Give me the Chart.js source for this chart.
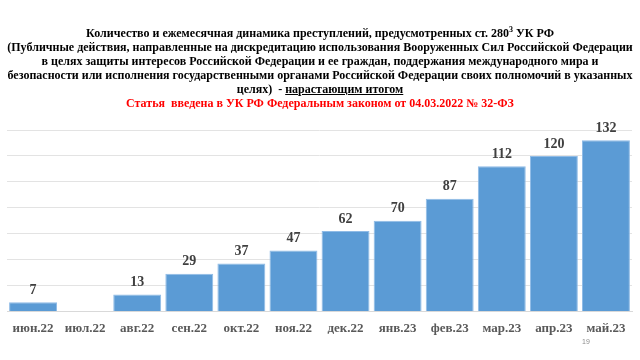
<!DOCTYPE html>
<html><head><meta charset="utf-8">
<script src="https://cdn.jsdelivr.net/npm/chart.js@4"></script>
<style>
html,body{margin:0;padding:0;background:#fff;}
#wrap{position:relative;width:640px;height:360px;overflow:hidden;}
#title{position:absolute;left:0;top:26px;width:640px;text-align:center;font-family:"Liberation Serif","Times New Roman",serif;font-weight:bold;font-size:12px;line-height:14px;color:#000;}
#title .red{color:#ff0000;}
#title sup{font-size:8px;line-height:0;vertical-align:5px;}
#page{position:absolute;left:582px;top:338px;font-family:"Liberation Sans",Arial,sans-serif;font-size:7px;color:#8c8c8c;}
canvas{position:absolute;left:0;top:0;}
</style></head>
<body><div id="wrap">
<canvas id="c" width="640" height="360"></canvas>
<div id="title">
<div>Количество и ежемесячная динамика преступлений, предусмотренных ст. 280<sup>3</sup> УК РФ</div>
<div>(Публичные действия, направленные на дискредитацию использования Вооруженных Сил Российской Федерации</div>
<div>в целях защиты интересов Российской Федерации и ее граждан, поддержания международного мира и</div>
<div>безопасности или исполнения государственными органами Российской Федерации своих полномочий в указанных</div>
<div>целях)&nbsp; - <u>нарастающим итогом</u></div>
<div class="red">Статья&nbsp; введена в УК РФ Федеральным законом от 04.03.2022 № 32-ФЗ</div>
</div>
<div id="page">19</div>
</div>
<script>
const categories = ["июн.22","июл.22","авг.22","сен.22","окт.22","ноя.22","дек.22","янв.23","фев.23","мар.23","апр.23","май.23"];
const values = [7, null, 13, 29, 37, 47, 62, 70, 87, 112, 120, 132];

const labelPlugin = {
  id: 'valueLabels',
  afterDatasetsDraw(chart) {
    const ctx = chart.ctx;
    const meta = chart.getDatasetMeta(0);
    ctx.save();
    ctx.font = 'bold 14px "Liberation Serif", "Times New Roman", serif';
    ctx.fillStyle = '#404040';
    ctx.textAlign = 'center';
    ctx.textBaseline = 'bottom';
    meta.data.forEach((bar, i) => {
      const v = values[i];
      if (v === null || v === undefined) return;
      ctx.fillText(String(v), bar.x, bar.y - 5);
    });
    ctx.restore();
  }
};

new Chart(document.getElementById('c'), {
  type: 'bar',
  data: {
    labels: categories,
    datasets: [{
      data: values,
      backgroundColor: '#5b9bd5',
      borderColor: '#8fbbe6',
      borderWidth: 1,
      categoryPercentage: 1.0,
      barPercentage: 0.92
    }]
  },
  options: {
    responsive: false,
    animation: false,
    events: [],
    layout: { padding: { top: 130, left: 7, right: 8, bottom: 23 } },
    plugins: { legend: { display: false }, tooltip: { enabled: false }, title: { display: false } },
    scales: {
      x: {
        grid: { display: false },
        border: { color: '#d9d9d9', width: 1 },
        ticks: {
          color: '#595959',
          font: { family: '"Liberation Serif", "Times New Roman", serif', size: 13, weight: 'bold' },
          padding: 1,
          maxRotation: 0,
          autoSkip: false
        }
      },
      y: {
        min: 0, max: 140,
        ticks: { display: false, stepSize: 20 },
        grid: { color: '#e3e3e3', lineWidth: 1, drawTicks: false },
        border: { display: false }
      }
    }
  },
  plugins: [labelPlugin]
});
</script>
</body></html>
